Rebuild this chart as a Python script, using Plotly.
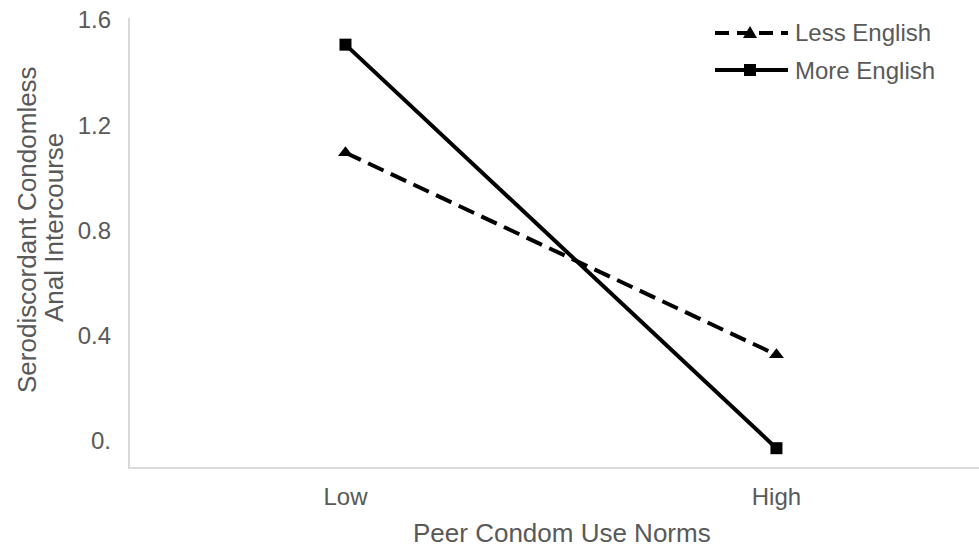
import plotly.graph_objects as go

# Interaction plot: condomless anal intercourse by peer norms and English use
categories = ["Low", "High"]
less_english = [1.12, 0.40]
more_english = [1.505, 0.067]
y_ticks = [0.0, 0.4, 0.8, 1.2, 1.6]
y_tick_labels = ["0.", "0.4", "0.8", "1.2", "1.6"]
series_names = ["Less English", "More English"]

x_pos = list(range(len(categories)))
grey = "#595959"
axis_grey = "#d9d9d9"
font_family = "Liberation Sans, Arial, sans-serif"

W, H = 979, 551
M_L, M_R, M_T, M_B = 130, 0, 18, 84
PW, PH = W - M_L - M_R, H - M_T - M_B


def px_x(px):
    """Pixel column -> paper x."""
    return (px - M_L) / PW


def px_y(py):
    """Pixel row -> paper y."""
    return (H - M_B - py) / PH


less_dash = "17px,8px"

fig = go.Figure()

fig.add_trace(go.Scatter(
    x=x_pos, y=less_english, name=series_names[0], mode="lines+markers",
    line=dict(color="black", width=4, dash=less_dash),
    marker=dict(symbol="triangle-up", size=13, color="black"),
    showlegend=False,
))
fig.add_trace(go.Scatter(
    x=x_pos, y=more_english, name=series_names[1], mode="lines+markers",
    line=dict(color="black", width=4),
    marker=dict(symbol="square", size=12, color="black"),
    showlegend=False,
))

# invisible trace carrying the value-axis labels
fig.add_trace(go.Scatter(
    x=[x_pos[0]], y=[y_ticks[0]], yaxis="y2", mode="markers",
    marker=dict(opacity=0), showlegend=False, hoverinfo="skip",
))

# legend keys: long line samples with the series marker in the middle
shapes = []
annotations = []
key_rows = [33, 70]
key_x0, key_x1, key_mid = 715, 788, 750
for name, row, dash, marker in zip(series_names, key_rows,
                                   ["14px,8px", "solid"], ["tri", "sq"]):
    shapes.append(dict(
        type="line", xref="paper", yref="paper",
        x0=px_x(key_x0), x1=px_x(key_x1), y0=px_y(row), y1=px_y(row),
        line=dict(color="black", width=4, dash=dash),
    ))
    if marker == "sq":
        path = "M{:.5f},{:.5f} L{:.5f},{:.5f} L{:.5f},{:.5f} L{:.5f},{:.5f} Z".format(
            px_x(key_mid - 6), px_y(row - 6), px_x(key_mid + 6), px_y(row - 6),
            px_x(key_mid + 6), px_y(row + 6), px_x(key_mid - 6), px_y(row + 6))
    else:
        path = "M{:.5f},{:.5f} L{:.5f},{:.5f} L{:.5f},{:.5f} Z".format(
            px_x(key_mid), px_y(row - 7), px_x(key_mid + 7), px_y(row + 5),
            px_x(key_mid - 7), px_y(row + 5))
    shapes.append(dict(type="path", xref="paper", yref="paper", path=path,
                       fillcolor="black", line=dict(width=0)))
    annotations.append(dict(
        text=name, xref="paper", yref="paper", x=px_x(793), y=px_y(row),
        xanchor="left", yanchor="middle", showarrow=False,
        font=dict(size=24, color=grey),
    ))

annotations += [
    dict(text="Peer Condom Use Norms", xref="paper", yref="paper",
         x=px_x(562), y=px_y(533), xanchor="center", yanchor="middle",
         showarrow=False, font=dict(size=26, color=grey)),
    dict(text="Serodiscordant Condomless", xref="paper", yref="paper",
         x=px_x(27), y=px_y(230), xanchor="center", yanchor="middle",
         textangle=-90, showarrow=False, font=dict(size=26, color=grey)),
    dict(text="Anal Intercourse", xref="paper", yref="paper",
         x=px_x(54), y=px_y(228), xanchor="center", yanchor="middle",
         textangle=-90, showarrow=False, font=dict(size=26, color=grey)),
]

fig.update_layout(
    width=W, height=H,
    margin=dict(l=M_L, r=M_R, t=M_T, b=M_B),
    paper_bgcolor="white", plot_bgcolor="white",
    font=dict(family=font_family, color=grey, size=24),
    showlegend=False,
    xaxis=dict(
        range=[-0.5, 1.47], tickvals=x_pos, ticktext=categories,
        showgrid=False, zeroline=False, showline=True, linecolor=axis_grey,
        linewidth=1.5, ticks="", ticklabelstandoff=7,
        tickfont=dict(size=24, color=grey),
    ),
    yaxis=dict(
        range=[0, 1.6], showgrid=False, zeroline=False, showline=True,
        linecolor=axis_grey, linewidth=1.5, showticklabels=False, ticks="",
    ),
    yaxis2=dict(
        overlaying="y", side="left", range=[-0.0988, 1.6076],
        tickvals=y_ticks, ticktext=y_tick_labels, showgrid=False,
        zeroline=False, showline=False, ticks="", ticklabelstandoff=18,
        tickfont=dict(size=24, color=grey),
    ),
    shapes=shapes,
    annotations=annotations,
)

fig.write_html("out.html")
